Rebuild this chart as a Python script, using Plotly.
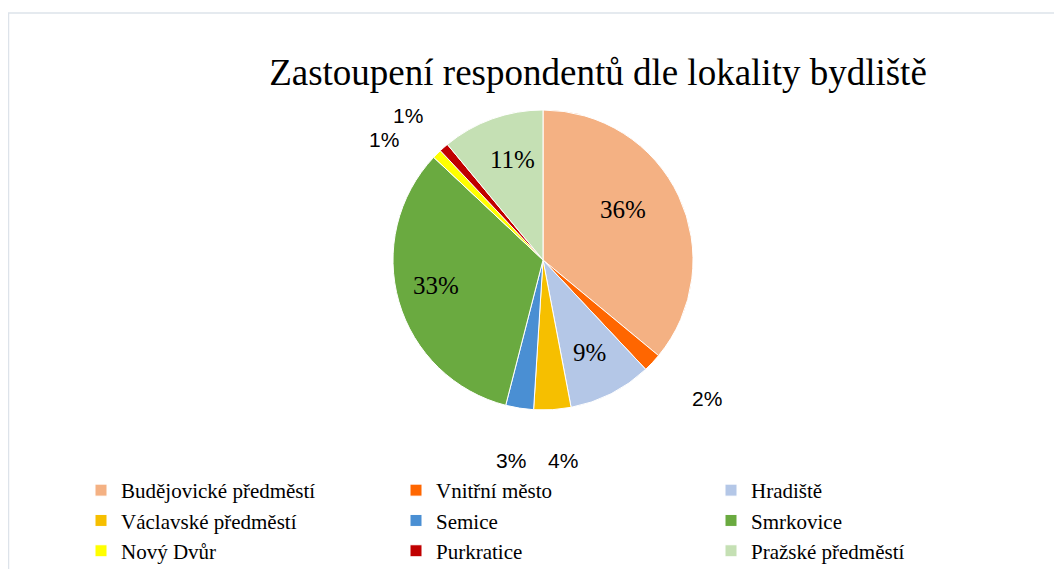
import math
import plotly.graph_objects as go

# ---- data ----
categories = ["Budějovické předměstí", "Vnitřní město", "Hradiště",
              "Václavské předměstí", "Semice", "Smrkovice",
              "Nový Dvůr", "Purkratice", "Pražské předměstí"]
values = [36, 2, 9, 4, 3, 33, 1, 1, 11]
colors = ["#F4B183", "#FF6600", "#B4C7E7", "#F6BF00", "#4A8FD3",
          "#6AAA40", "#FFFF00", "#C00000", "#C5E0B4"]
title_text = "Zastoupení respondentů dle lokality bydliště"

# ---- layout helpers ----
W, H = 1046, 600          # figure size (bottom part runs past the window, like the reference)
OFF = 8                   # page body margin
CX, CY, R = 543 - OFF, 260 - OFF, 150   # pie centre and radius in px
inside = [True, False, True, False, False, True, False, False, True]
label_rad = [0.63, 1.43, 0.69, 1.34, 1.35, 0.73, 1.33, 1.32, 0.70]
label_dang = [-7, -3, 0, -2, 0, 3, -8, -1.6, 3]

fig = go.Figure(go.Pie(
    labels=categories, values=values, sort=False, direction="clockwise",
    rotation=0, marker=dict(colors=colors, line=dict(color="white", width=1)),
    textinfo="none", hoverinfo="label+percent",
    domain=dict(x=[(CX - R) / W, (CX + R) / W],
                y=[1 - (CY + R) / H, 1 - (CY - R) / H]),
))

total = sum(values)
cum = 0
for i, v in enumerate(values):
    mid = (cum + v / 2) / total * 360 + label_dang[i]
    cum += v
    a = math.radians(mid)
    px = CX + R * label_rad[i] * math.sin(a)
    py = CY - R * label_rad[i] * math.cos(a)
    pct = round(v / total * 100)
    if inside[i]:
        font = dict(family="Liberation Serif, Times New Roman, serif", size=25, color="#000000")
    else:
        font = dict(family="Liberation Sans, Arial, sans-serif", size=21, color="#000000")
    fig.add_annotation(x=px / W, y=1 - py / H, xref="paper", yref="paper",
                       text=f"{pct}%", showarrow=False, font=font,
                       xanchor="center", yanchor="middle")

# chart-area border (top & left visible)
fig.add_shape(type="rect", xref="paper", yref="paper",
              x0=0.5 / W, x1=1.05, y0=-0.05, y1=1 - (13 - OFF) / H,
              line=dict(color="#DDE3EA", width=1.5), fillcolor="rgba(0,0,0,0)")

fig.update_layout(
    width=W, height=H,
    margin=dict(l=0, r=0, t=0, b=0),
    paper_bgcolor="white", plot_bgcolor="white",
    title=dict(text=title_text, x=(598 - OFF) / W, y=1 - (72 - OFF) / H,
               xanchor="center", yanchor="middle",
               font=dict(family="Liberation Serif, Times New Roman, serif",
                         size=37, color="#000000")),
    showlegend=True,
    legend=dict(orientation="h", x=(81 - OFF) / W, y=1 - (470 - OFF) / H,
                xanchor="left", yanchor="top",
                entrywidth=270, entrywidthmode="pixels",
                itemwidth=30, tracegroupgap=0,
                font=dict(family="Liberation Serif, Times New Roman, serif",
                          size=21, color="#000000")),
)

fig.write_html("out.html")
